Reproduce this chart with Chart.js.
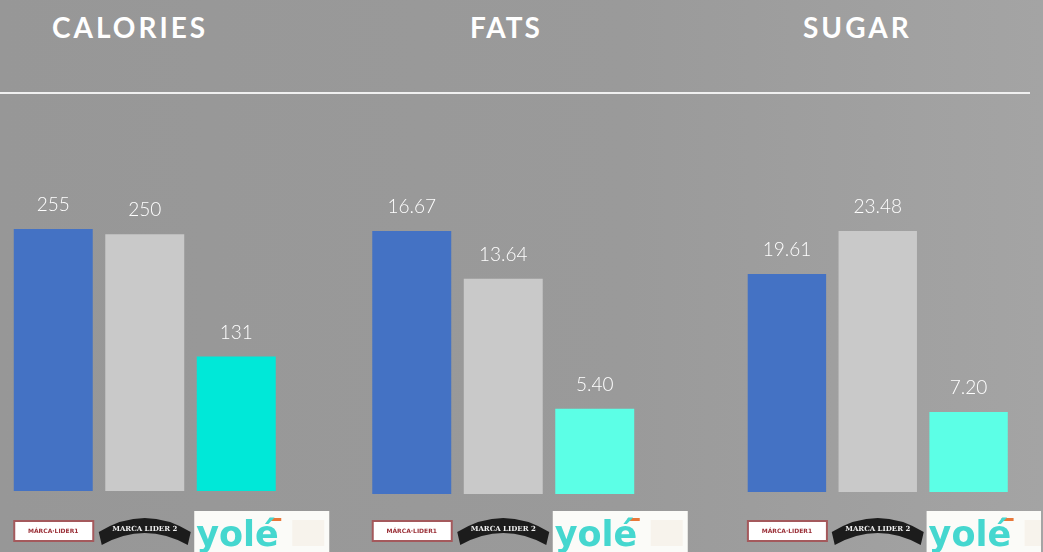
<!DOCTYPE html>
<html>
<head>
<meta charset="utf-8">
<script src="https://cdn.jsdelivr.net/npm/chart.js@4"></script>
<style>
  html, body { margin: 0; padding: 0; }
  body {
    width: 1043px; height: 552px; overflow: hidden; position: relative;
    background: linear-gradient(to right, #979797 0%, #9a9a9a 60%, #a4a4a4 100%);
    font-family: "Lato", "Open Sans", sans-serif;
  }
  .title {
    position: absolute; top: 8px; color: #fff; font-weight: bold;
    font-size: 28px; letter-spacing: 3px; line-height: 38px;
  }
  .rule { position: absolute; left: 0; top: 92px; width: 1030px; height: 2px; background: #f0f0f0; }
  .box { position: absolute; top: 0; width: 347px; height: 552px; }
</style>
</head>
<body>
<div class="title" style="left:52px">CALORIES</div>
<div class="title" style="left:470px; letter-spacing:2px">FATS</div>
<div class="title" style="left:803px">SUGAR</div>
<div class="rule"></div>
<div class="box" style="left:0px"><canvas id="c1"></canvas></div>
<div class="box" style="left:347px"><canvas id="c2"></canvas></div>
<div class="box" style="left:694px"><canvas id="c3"></canvas></div>
<script>
// brands (shown as logos under the bars)
var brands = ["MARCA LIDER 1", "MARCA LIDER 2", "Yolé"];

// values per 100 g
var calories = [255, 250, 131];
var fats = [16.67, 13.64, 5.40];
var sugar = [19.61, 23.48, 7.20];

var blue = "#4472C4";
var grey = "#C9C9C9";

// value labels above the bars
var valueLabels = {
    id: "valueLabels",
    afterDatasetsDraw: function(chart, args, opts) {
        var ctx = chart.ctx;
        var meta = chart.getDatasetMeta(0);
        ctx.save();
        ctx.fillStyle = "#ffffff";
        ctx.font = "300 19px Lato, 'Open Sans', sans-serif";
        ctx.textAlign = "center";
        ctx.textBaseline = "middle";
        meta.data.forEach(function(bar, i) {
            var v = chart.data.datasets[0].data[i];
            var txt = opts.decimals ? v.toFixed(2) : String(v);
            ctx.fillText(txt, bar.x, bar.y - 24);
        });
        ctx.restore();
    }
};

// brand logos drawn as text under each bar
var logos = {
    id: "logos",
    afterDraw: function(chart) {
        var ctx = chart.ctx;
        var xs = chart.scales.x;
        var base = 552;
        ctx.save();
        // logo 1
        var x = xs.getPixelForValue(0);
        ctx.fillStyle = "#ffffff";
        ctx.fillRect(x - 39, base - 31, 79, 20);
        ctx.strokeStyle = "#a4595c";
        ctx.lineWidth = 2;
        ctx.strokeRect(x - 39, base - 31, 79, 20);
        ctx.fillStyle = "#9a2e36";
        ctx.font = "bold 6px 'DejaVu Sans', sans-serif";
        ctx.textAlign = "center";
        ctx.textBaseline = "middle";
        ctx.fillText("MÁRCA·LIDER1", x, base - 21);
        // logo 2
        x = xs.getPixelForValue(1);
        ctx.fillStyle = "#1c1c1c";
        ctx.beginPath();
        ctx.moveTo(x - 46, base - 20);
        ctx.quadraticCurveTo(x, base - 48, x + 46, base - 20);
        ctx.lineTo(x + 43, base - 7);
        ctx.quadraticCurveTo(x, base - 31, x - 43, base - 7);
        ctx.closePath();
        ctx.fill();
        ctx.fillStyle = "#f0f0f0";
        ctx.font = "bold 7px 'DejaVu Serif', serif";
        ctx.fillText("MARCA LIDER 2", x, base - 23);
        // logo 3
        x = xs.getPixelForValue(2);
        ctx.fillStyle = "#fbfbf8";
        ctx.fillRect(x - 42, base - 41, 135, 41);
        ctx.fillStyle = "#f7f3ec";
        ctx.fillRect(x + 56, base - 32, 32, 26);
        ctx.fillStyle = "#e8783a";
        ctx.fillRect(x + 33, base - 34, 12, 3);
        ctx.fillStyle = "#45d7cf";
        ctx.font = "bold 35px 'DejaVu Sans', sans-serif";
        ctx.textAlign = "left";
        ctx.textBaseline = "alphabetic";
        ctx.fillText("yolé", x - 40, base - 6);
        ctx.restore();
    }
};

function makeChart(id, values, barColors, maxY, pad, decimals) {
    return new Chart(document.getElementById(id), {
        type: "bar",
        data: {
            labels: brands,
            datasets: [{
                data: values,
                backgroundColor: barColors,
                borderWidth: 0,
                barPercentage: 0.863,
                categoryPercentage: 1.0
            }]
        },
        options: {
            responsive: true,
            maintainAspectRatio: false,
            animation: false,
            layout: { padding: pad },
            plugins: {
                legend: { display: false },
                tooltip: { enabled: false },
                valueLabels: { decimals: decimals }
            },
            scales: {
                x: { display: false },
                y: { display: false, min: 0, max: maxY }
            }
        },
        plugins: [valueLabels, logos]
    });
}

makeChart("c1", calories, [blue, grey, "#00E8D8"], 380.7,
    { left: 7.5, right: 65, top: 100, bottom: 61 }, false);
makeChart("c2", fats, [blue, grey, "#5CFFE6"], 24.97,
    { left: 19, right: 53.5, top: 100, bottom: 58 }, true);
makeChart("c3", sugar, [blue, grey, "#5CFFE6"], 35.26,
    { left: 47.5, right: 27, top: 100, bottom: 60 }, true);
</script>
</body>
</html>
